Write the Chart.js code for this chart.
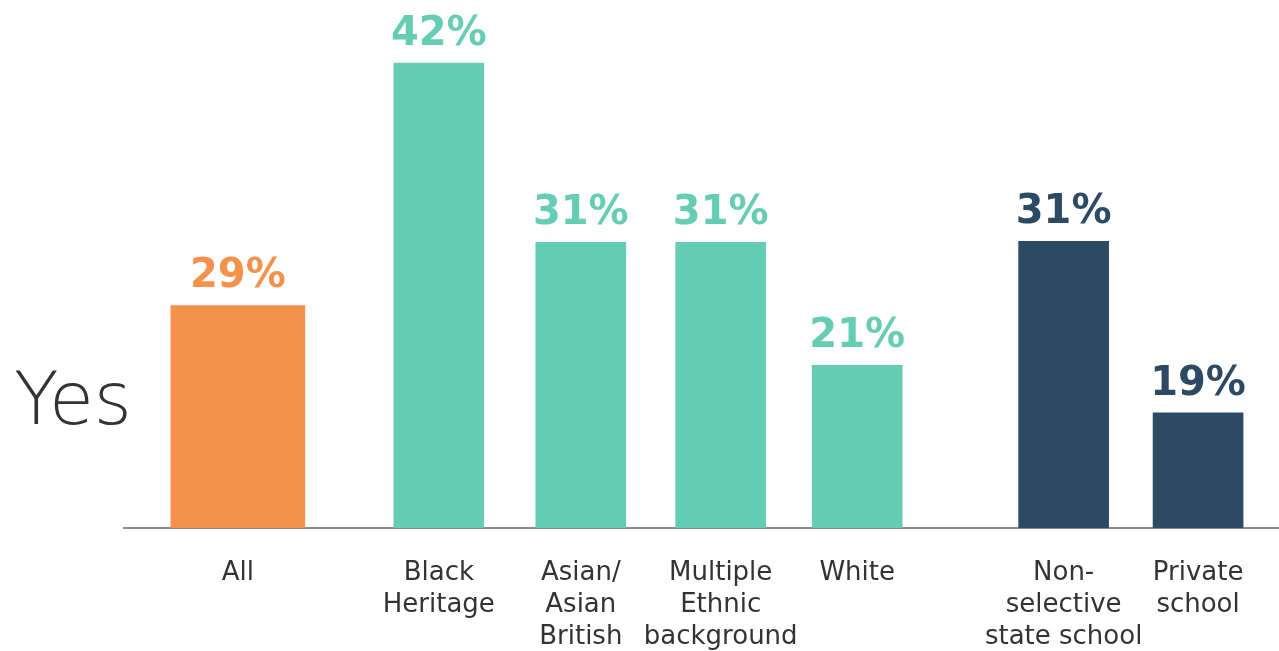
<!DOCTYPE html>
<html>
<head>
<meta charset="utf-8">
<script src="https://cdn.jsdelivr.net/npm/chart.js@4"></script>
<style>
  html, body { margin: 0; padding: 0; background: #fff; }
  #wrap { width: 1279px; height: 651px; position: relative; }
</style>
</head>
<body>
<div id="wrap"><canvas id="grafico"></canvas></div>
<script>
// Categorías (líneas de etiqueta) y valores.
const categorias = [
  ["All"],
  ["Black", "Heritage"],
  ["Asian/", "Asian", "British"],
  ["Multiple", "Ethnic", "background"],
  ["White"],
  ["Non-", "selective", "state school"],
  ["Private", "school"]
];
const porcentajes = [29, 42, 31, 31, 21, 31, 19];
// Alturas de barra tal como aparecen (la imagen original no está a escala).
const alturas = [20.1, 42, 25.8, 25.8, 14.7, 25.9, 10.4];
const grupos = ["total", "etnia", "etnia", "etnia", "etnia", "escuela", "escuela"];

const COLORES = { total: "#F4914A", etnia: "#66CDB5", escuela: "#2D4A64" };

// Posición de cada categoría en el eje (con huecos entre grupos).
const posiciones = [0, 2.93, 5, 7.04, 9.03, 12.04, 14];

const puntos = alturas.map((h, i) => ({ x: posiciones[i], y: h }));

const etiquetasPlugin = {
  id: "etiquetas",
  afterDatasetsDraw(chart) {
    const ctx = chart.ctx;
    ctx.save();
    ctx.font = "bold 40px 'DejaVu Sans', sans-serif";
    ctx.textAlign = "center";
    ctx.textBaseline = "alphabetic";
    chart.data.datasets.forEach((ds, di) => {
      chart.getDatasetMeta(di).data.forEach((bar, i) => {
        if (ds.data[i] == null) return;
        const idx = ds.indices[i];
        ctx.fillStyle = COLORES[grupos[idx]];
        ctx.fillText(porcentajes[idx] + "%", bar.x, bar.y - 18);
      });
    });
    // Título "Yes" a la izquierda
    ctx.fillStyle = "#333";
    ctx.font = "200 73px 'DejaVu Sans', sans-serif";
    ctx.textAlign = "left";
    ctx.fillText("Yes", 14, 424);
    ctx.restore();
  }
};

// Dos datasets (sin agrupar) para poder dar distinto ancho a "All".
const idxAll = [0];
const idxResto = [1, 2, 3, 4, 5, 6];

new Chart(document.getElementById("grafico"), {
  type: "bar",
  data: {
    datasets: [
      {
        data: idxAll.map(i => puntos[i]),
        indices: idxAll,
        backgroundColor: idxAll.map(i => COLORES[grupos[i]]),
        barThickness: 134,
        grouped: false
      },
      {
        data: idxResto.map(i => puntos[i]),
        indices: idxResto,
        backgroundColor: idxResto.map(i => COLORES[grupos[i]]),
        barThickness: 90,
        grouped: false
      }
    ]
  },
  options: {
    responsive: true,
    maintainAspectRatio: false,
    animation: false,
    layout: { padding: { left: 124, right: 0, top: 0, bottom: 0 } },
    plugins: { legend: { display: false }, tooltip: { enabled: false } },
    scales: {
      x: {
        type: "linear",
        offset: false,
        min: -1.66,
        max: 15.18,
        grid: { display: false },
        border: { display: true, color: "#8c8c8c", width: 2 },
        afterBuildTicks: s => { s.ticks = posiciones.map(v => ({ value: v })); },
        afterFit: s => { s.height = 123; },
        ticks: {
          autoSkip: false,
          maxRotation: 0,
          padding: 21,
          color: "#333",
          font: { family: "'DejaVu Sans', sans-serif", size: 26, lineHeight: 1.23 },
          callback: v => categorias[posiciones.indexOf(v)] || ""
        }
      },
      y: {
        display: false,
        min: 0,
        max: 42 * 528 / 465
      }
    }
  },
  plugins: [etiquetasPlugin]
});
</script>
</body>
</html>
